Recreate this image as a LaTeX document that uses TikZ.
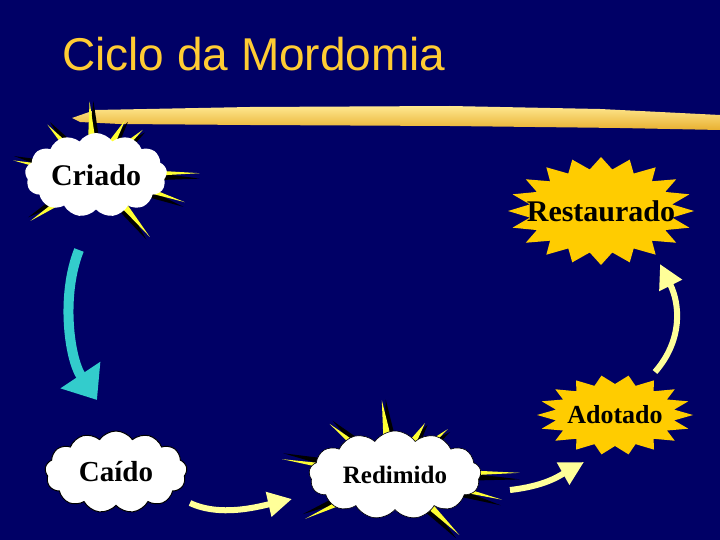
\documentclass[tikz,border=0pt]{standalone}
\usepackage{fontspec}
\setmainfont{Liberation Serif}
\newfontfamily\titlefont{Liberation Sans}
\usetikzlibrary{shapes.symbols,arrows.meta}
\definecolor{slidebg}{HTML}{000066}
\definecolor{titleyellow}{HTML}{FFCC33}
\definecolor{burstorange}{HTML}{FFCC00}
\definecolor{spikeyellow}{HTML}{FFFF33}
\definecolor{fallcyan}{HTML}{33CCCC}
\definecolor{paleyellow}{HTML}{FFFF99}
\definecolor{brushgold}{HTML}{E8B030}
\definecolor{brushlight}{HTML}{FFE890}
\begin{document}
\begin{tikzpicture}[x=1pt,y=-1pt,>=latex]
\tikzset{
  state/.style={font={\fontsize{#1}{#1}\selectfont\bfseries},text=black,inner sep=0pt},
  puff/.style={cloud,cloud puffs=13,cloud puff arc=110,cloud ignores aspect,fill=white,inner sep=0pt},
  burst/.style={fill=burstorange},
  spike/.style={fill=spikeyellow},
  spikeshadow/.style={fill=black},
  fall/.style={line width=10pt,draw=fallcyan,-{Triangle[length=30pt,width=46pt]}},
  flow/.style={line width=6pt,draw=paleyellow,-{Triangle[length=24pt,width=24pt]}}
}
\useasboundingbox (0,0) rectangle (720,540);
\fill[slidebg] (0,0) rectangle (720,540);
\node[anchor=base west,inner sep=0pt,text=titleyellow,font={\titlefont\fontsize{46}{46}\selectfont}] (title) at (62,71) {Ciclo da Mordomia};
\shade[top color=brushlight,bottom color=brushgold] (72,118) -- (95,110) -- (250,107) -- (450,106) -- (600,109) -- (720,115) -- (720,130) -- (620,128) -- (450,126) -- (250,125) -- (120,124) -- (80,122) -- cycle;

\coordinate (criadoC) at (96,175);
\begin{scope}[shift={(criadoC)}]
\foreach \a/\l in {95/74,134/70,170/84,215/80,311/82,343/93,1/104,62/62,44/65}{
  \fill[spikeshadow] (\a+12:28pt) -- (\a-3:\l pt) -- (\a-14:28pt) -- cycle;
  \fill[spike] (\a+12:28pt) -- (\a:\l pt) -- (\a-6:28pt) -- cycle;
}
\end{scope}
\node[puff,state=30,minimum width=142pt,minimum height=84pt] (criado) at (criadoC) {Criado};

\coordinate (restC) at (601,211);
\begin{scope}[shift={(restC)}]
\fill[burst] (0:93pt and 54pt) \foreach \i [evaluate=\i as \rx using {mod(\i,2)==0 ? 93 : 72}, evaluate=\i as \ry using {mod(\i,2)==0 ? 54 : 42}] in {1,...,39}{ -- (\i*9:\rx pt and \ry pt)} -- cycle;
\end{scope}
\node[state=30] (restaurado) at (restC) {Restaurado};

\coordinate (adotC) at (615,415);
\begin{scope}[shift={(adotC)}]
\fill[burst] (0:78pt and 40pt) \foreach \i [evaluate=\i as \rx using {mod(\i,2)==0 ? 78 : 60}, evaluate=\i as \ry using {mod(\i,2)==0 ? 40 : 31}] in {1,...,35}{ -- (\i*10:\rx pt and \ry pt)} -- cycle;
\end{scope}
\node[state=26] (adotado) at (adotC) {Adotado};

\coordinate (redC) at (395,475);
\begin{scope}[shift={(redC)}]
\foreach \a/\l in {100/76,142/83,172/114,206/100,317/88,347/110,1/125,60/60,41/70}{
  \fill[spikeshadow] (\a+12:30pt) -- (\a-3:\l pt) -- (\a-14:30pt) -- cycle;
  \fill[spike] (\a+12:30pt) -- (\a:\l pt) -- (\a-6:30pt) -- cycle;
}
\end{scope}
\node[puff,state=25,draw=black,line width=0.6pt,minimum width=172pt,minimum height=88pt] (redimido) at (redC) {Redimido};

\node[puff,state=29,draw=black,line width=1pt,minimum width=142pt,minimum height=82pt] (caido) at (116,472) {Caído};

\coordinate (fallstart) at (79,250);
\coordinate (fallend) at (97,400);
\draw[fall] (fallstart) .. controls +(-18,45) and +(-28,-42) .. (fallend);
\coordinate (caidoout) at (190,503);
\coordinate (redimin) at (292,499);
\draw[flow] (caidoout) .. controls +(30,14) and +(-35,8) .. (redimin);
\coordinate (redimout) at (510,490);
\coordinate (adotin) at (584,462);
\draw[flow] (redimout) .. controls +(35,-4) and +(-25,14) .. (adotin);
\coordinate (adotout) at (655,372);
\coordinate (restin) at (660,264);
\draw[flow] (adotout) .. controls +(28,-32) and +(20,40) .. (restin);
\end{tikzpicture}
\end{document}
